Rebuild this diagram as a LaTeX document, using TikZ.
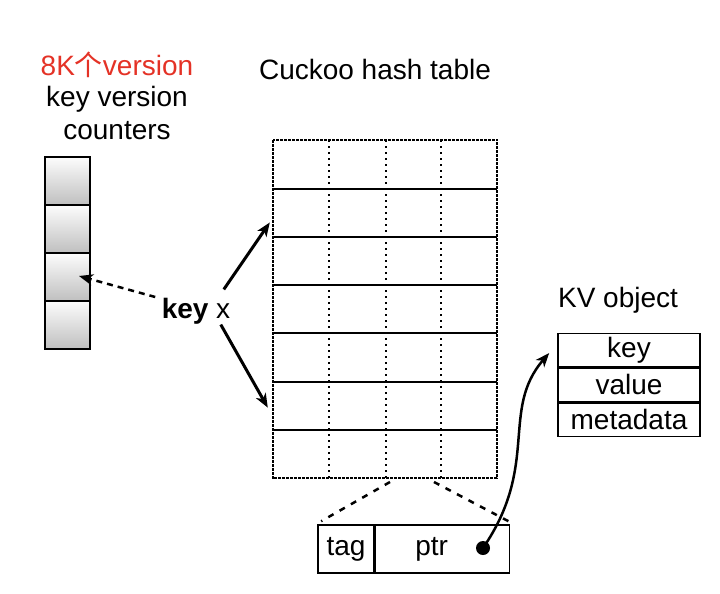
\documentclass[tikz,border=0pt]{standalone}
\usepackage{fontspec}
\setmainfont{Liberation Sans}
\newfontfamily\cjkfont{Noto Sans CJK SC}
\usepackage{xcolor}
\usetikzlibrary{calc, arrows.meta}

\definecolor{versionred}{RGB}{228,50,38}

\begin{document}
\begin{tikzpicture}[x=1pt, y=-1pt, font=\fontsize{28}{32}\selectfont,
	counter/.style = {draw, line width=2pt, minimum width=45pt, minimum height=48pt, inner sep=0pt, top color=gray!2, bottom color=gray!50},
	bucket/.style = {minimum width=224pt, minimum height=48.3pt, inner sep=0pt},
	field/.style = {draw, line width=1.6pt, minimum height=48pt, inner sep=0pt},
	kvfield/.style = {draw, line width=1.6pt, minimum width=142pt, minimum height=33.3pt, inner sep=0pt},
	pointer/.style = {-{Stealth[length=14pt, width=11pt, inset=4pt]}, line width=3pt}]
		\useasboundingbox (0,0) rectangle (720,594);
		\def\rowh{48.3}
		\def\ttop{140}
		
		% version counters
		\node[text=versionred] (title8k) at (117,65) {8K{\cjkfont 个}version};
		\node (titlekv) at (117,99) {key version};
		\node (titlecnt) at (117,131) {counters};
		\foreach \i in {1,...,4}
			\node[counter] (c\i) at (67.5,{157+48*(\i-0.5)}) {};
		
		% cuckoo hash table
		\node (titlehash) at (375,69) {Cuckoo hash table};
		\foreach \i in {1,...,7}
			\node[bucket] (r\i) at (385,{\ttop+\rowh*(\i-0.5)}) {};
		\foreach \i in {1,...,6}
			\draw[line width=2pt] (r\i.south west) -- (r\i.south east);
		\foreach \x in {329,386,441}
			\draw[dash pattern=on 2pt off 4pt, line width=2pt] (\x,\ttop) -- (\x,{\ttop+7*\rowh});
		\draw[dash pattern=on 3pt off 1pt, line width=2pt] (r1.north west) rectangle (r7.south east);
		
		% the key
		\node (key) at (196,311) {\textbf{key} x};
		\coordinate (up end) at ($ (r2.west) + (-3,10) $);
		\coordinate (down end) at ($ (r6.west) + (-5,2) $);
		\draw[pointer] ($ (key.north east) + (-10,-5) $) -- (up end);
		\draw[pointer] ($ (key.south east) + (-13,-3) $) -- (down end);
		\draw[pointer, dash pattern=on 6pt off 5pt, line width=2.5pt] ($ (key.west) + (-3,-14) $) -- ($ (c3.east) + (-12,-1) $);
		
		% slot entry
		\node[field, minimum width=56pt] (tag) at (346,549) {tag};
		\node[field, minimum width=134pt, anchor=west] (ptr) at (tag.east) {ptr\kern22pt};
		\draw[dash pattern=on 6pt off 7pt, line width=2.5pt] (390,482) -- ($ (tag.north west) + (4,-3) $);
		\draw[dash pattern=on 6pt off 7pt, line width=2.5pt] (434,482) -- ($ (ptr.north east) + (-2,-3) $);
		\coordinate (dot) at (483,548);
		\fill (dot) circle [radius=7pt];
		
		% KV object
		\node (titleobj) at (618,300) {KV object};
		\node[kvfield] (kvkey) at (629,350) {key};
		\node[kvfield, anchor=north] (kvvalue) at (kvkey.south) {value};
		\node[kvfield, anchor=north] (kvmeta) at (kvvalue.south) {metadata};
		\draw[pointer, line width=2.5pt] (dot) .. controls (540,465) and (500,410) .. ($ (kvkey.west) + (-8,3) $);
	\end{tikzpicture}
\end{document}
